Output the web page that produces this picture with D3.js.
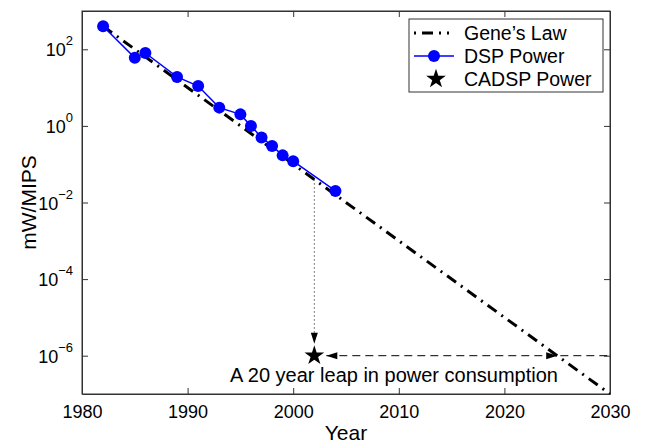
<!DOCTYPE html>
<html>
<head>
<meta charset="utf-8">
<script src="https://cdn.jsdelivr.net/npm/d3@7"></script>
<style>
  body { margin: 0; background: #fff; }
  svg text { font-family: "Liberation Sans", Arial, sans-serif; fill: #000; }
</style>
</head>
<body>
<svg id="chart" width="645" height="443"></svg>
<script>
// ------------------
// Data
// ------------------
const dspYears = [1982, 1985, 1986, 1989, 1991, 1993, 1995, 1996, 1997, 1998, 1999, 2000, 2004];
const dspValues = [400, 60, 80, 19, 11, 3, 2, 1, 0.5, 0.3, 0.17, 0.12, 0.02];

const geneYears = [1982, 2030];
const geneValues = [400, 1e-7];

const cadspYear = 2002;
const cadspValue = 1e-6;
const leapEndYear = 2025;

const xTicks = [1980, 1990, 2000, 2010, 2020, 2030];
const yTicks = [1e2, 1, 1e-2, 1e-4, 1e-6];
const yTickExps = ["2", "0", "\u22122", "\u22124", "\u22126"];

const legendLabels = ["Gene\u2019s Law", "DSP Power", "CADSP Power"];

// ------------------
// Layout
// ------------------
const plotLeft = 82, plotRight = 610, plotTop = 11, plotBottom = 394;
const svg = d3.select("#chart");

const x = d3.scaleLinear().domain([1980, 2030]).range([plotLeft, plotRight]);
const y = d3.scaleLog().domain([1e-7, 1e3]).range([plotBottom, plotTop]);

svg.append("defs").append("clipPath").attr("id", "plotClip")
  .append("rect").attr("x", plotLeft).attr("y", plotTop)
  .attr("width", plotRight - plotLeft).attr("height", plotBottom - plotTop);

// ------------------
// Axes
// ------------------
const frame = "#333";

const xAxis = svg.append("g")
  .attr("transform", `translate(0,${plotBottom})`)
  .call(d3.axisBottom(x).tickValues(xTicks).tickFormat(d3.format("d"))
    .tickSizeInner(-6).tickSizeOuter(0).tickPadding(11));
xAxis.selectAll("text").attr("font-size", 18);
xAxis.attr("font-family", null).attr("font-size", null);

svg.append("g")
  .attr("transform", `translate(0,${plotTop})`)
  .call(d3.axisTop(x).tickValues(xTicks).tickFormat("")
    .tickSizeInner(-6).tickSizeOuter(0));

svg.append("g")
  .attr("transform", `translate(${plotLeft},0)`)
  .call(d3.axisLeft(y).tickValues(yTicks).tickFormat("")
    .tickSizeInner(-6).tickSizeOuter(0));

svg.append("g")
  .attr("transform", `translate(${plotRight},0)`)
  .call(d3.axisRight(y).tickValues(yTicks).tickFormat("")
    .tickSizeInner(-6).tickSizeOuter(0));

svg.selectAll(".domain, .tick line").attr("stroke", frame);

// y tick labels with superscript exponents
yTicks.forEach((v, i) => {
  const t = svg.append("text")
    .attr("x", 73)
    .attr("y", y(v) + 7)
    .attr("text-anchor", "end")
    .attr("font-size", 18);
  t.append("tspan").text("10");
  t.append("tspan").attr("dy", -11).attr("font-size", 13).text(yTickExps[i]);
});

// frame
svg.append("rect")
  .attr("x", plotLeft).attr("y", plotTop)
  .attr("width", plotRight - plotLeft).attr("height", plotBottom - plotTop)
  .attr("fill", "none").attr("stroke", frame).attr("stroke-width", 1);

// axis titles
svg.append("text")
  .attr("x", (plotLeft + plotRight) / 2).attr("y", 440)
  .attr("text-anchor", "middle").attr("font-size", 21)
  .text("Year");

svg.append("text")
  .attr("transform", `translate(36,${(plotTop + plotBottom) / 2}) rotate(-90)`)
  .attr("text-anchor", "middle").attr("font-size", 21)
  .text("mW/MIPS");

// ------------------
// Series
// ------------------
const plot = svg.append("g").attr("clip-path", "url(#plotClip)");

const line = d3.line().x(d => x(d[0])).y(d => y(d[1]));

plot.append("path")
  .datum(d3.zip(geneYears, geneValues))
  .attr("d", line)
  .attr("fill", "none")
  .attr("stroke", "#000")
  .attr("stroke-width", 3)
  .attr("stroke-dasharray", "11,6,2,6");

plot.append("path")
  .datum(d3.zip(dspYears, dspValues))
  .attr("d", line)
  .attr("fill", "none")
  .attr("stroke", "#0000ff")
  .attr("stroke-width", 1.5);

plot.selectAll("circle.dsp")
  .data(d3.zip(dspYears, dspValues))
  .join("circle")
  .attr("class", "dsp")
  .attr("cx", d => x(d[0]))
  .attr("cy", d => y(d[1]))
  .attr("r", 6)
  .attr("fill", "#0000ff");

// ------------------
// Annotations
// ------------------
const star = d3.symbol().type(d3.symbolStar).size(120);

// gene's law value at the CADSP year
const geneScale = d3.scaleLinear().domain(geneYears)
  .range(geneValues.map(v => Math.log10(v)));
const geneAtCadsp = Math.pow(10, geneScale(cadspYear));

function arrowHead(g, tipX, tipY, dir) {
  // dir: "down", "left", "right"
  const L = 11, W = 3.5;
  let pts;
  if (dir === "down") pts = [[tipX, tipY], [tipX - W, tipY - L], [tipX + W, tipY - L]];
  if (dir === "left") pts = [[tipX, tipY], [tipX + L, tipY - W], [tipX + L, tipY + W]];
  if (dir === "right") pts = [[tipX, tipY], [tipX - L, tipY - W], [tipX - L, tipY + W]];
  g.append("path").attr("d", "M" + pts.join("L") + "Z").attr("fill", "#000");
}

const ann = svg.append("g");
const sx = x(cadspYear), sy = y(cadspValue);

// dotted drop line
ann.append("line")
  .attr("x1", sx).attr("x2", sx)
  .attr("y1", y(geneAtCadsp)).attr("y2", sy - 13)
  .attr("stroke", "#000").attr("stroke-width", 1)
  .attr("stroke-dasharray", "1,3");
arrowHead(ann, sx, sy - 12, "down");

// dashed leap arrow
ann.append("line")
  .attr("x1", sx + 12).attr("x2", plotRight)
  .attr("y1", sy).attr("y2", sy)
  .attr("stroke", "#000").attr("stroke-width", 1)
  .attr("stroke-dasharray", "8,5");
arrowHead(ann, sx + 12, sy, "left");
arrowHead(ann, x(leapEndYear), sy, "right");

ann.append("path")
  .attr("d", star)
  .attr("transform", `translate(${sx},${sy})`)
  .attr("fill", "#000");

ann.append("text")
  .attr("x", 230).attr("y", 382)
  .attr("font-size", 20)
  .text("A 20 year leap in power consumption");

// ------------------
// Legend
// ------------------
const lg = svg.append("g");
lg.append("rect")
  .attr("x", 409).attr("y", 19).attr("width", 194).attr("height", 73)
  .attr("fill", "#fff").attr("stroke", frame);

const rowY = [33, 56, 79];
lg.append("line")
  .attr("x1", 414).attr("x2", 454).attr("y1", rowY[0]).attr("y2", rowY[0])
  .attr("stroke", "#000").attr("stroke-width", 3)
  .attr("stroke-dasharray", "2,6,11,6,2,6");
lg.append("line")
  .attr("x1", 414).attr("x2", 454).attr("y1", rowY[1]).attr("y2", rowY[1])
  .attr("stroke", "#0000ff").attr("stroke-width", 1.5);
lg.append("circle")
  .attr("cx", 434).attr("cy", rowY[1]).attr("r", 6).attr("fill", "#0000ff");
lg.append("path")
  .attr("d", star)
  .attr("transform", `translate(436,${rowY[2]})`)
  .attr("fill", "#000");

lg.selectAll("text.leg")
  .data(legendLabels)
  .join("text")
  .attr("class", "leg")
  .attr("x", 464)
  .attr("y", (d, i) => rowY[i] + 7)
  .attr("font-size", 19.5)
  .text(d => d);
</script>
</body>
</html>
